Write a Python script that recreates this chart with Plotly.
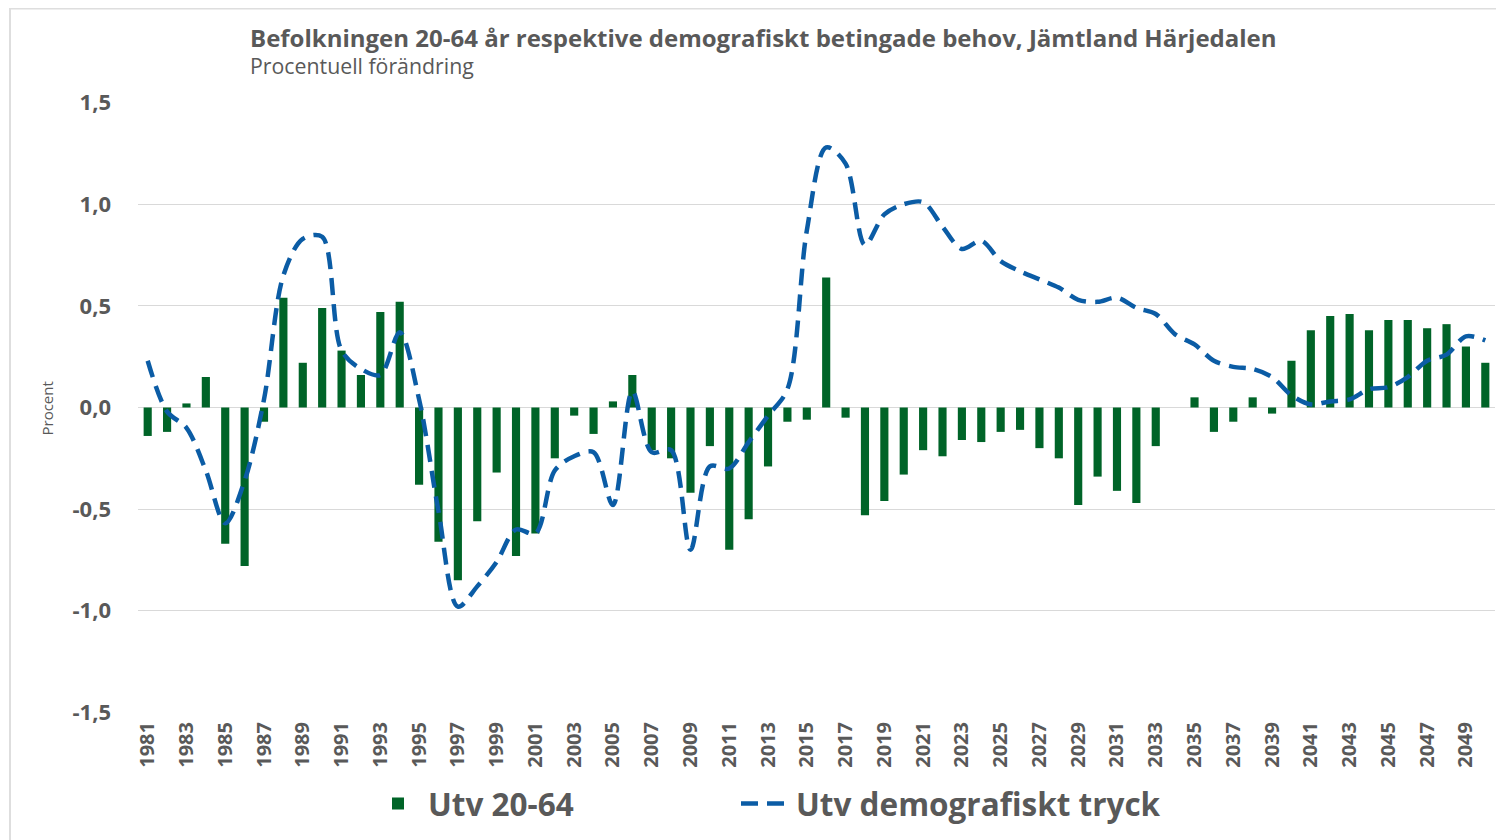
import plotly.graph_objects as go

years = list(range(1981, 2051))

utv_20_64 = [
    -0.14, -0.12, 0.02, 0.15, -0.67, -0.78, -0.07, 0.54, 0.22, 0.49,
    0.28, 0.16, 0.47, 0.52, -0.38, -0.66, -0.85, -0.56, -0.32, -0.73,
    -0.62, -0.25, -0.04, -0.13, 0.03, 0.16, -0.21, -0.25, -0.42, -0.19,
    -0.70, -0.55, -0.29, -0.07, -0.06, 0.64, -0.05, -0.53, -0.46, -0.33,
    -0.21, -0.24, -0.16, -0.17, -0.12, -0.11, -0.20, -0.25, -0.48, -0.34,
    -0.41, -0.47, -0.19, 0.0, 0.05, -0.12, -0.07, 0.05, -0.03, 0.23,
    0.38, 0.45, 0.46, 0.38, 0.43, 0.43, 0.39, 0.41, 0.30, 0.22,
]

utv_demografiskt_tryck = [
    0.23, -0.02, -0.10, -0.31, -0.57, -0.36, 0.04, 0.65, 0.83, 0.84,
    0.28, 0.19, 0.16, 0.37, 0.04, -0.51, -0.98, -0.88, -0.76, -0.60,
    -0.62, -0.31, -0.24, -0.22, -0.48, 0.08, -0.22, -0.21, -0.70, -0.29,
    -0.30, -0.17, -0.04, 0.09, 0.87, 1.28, 1.20, 0.80, 0.95, 1.00,
    1.01, 0.89, 0.78, 0.82, 0.72, 0.67, 0.63, 0.59, 0.53, 0.52,
    0.54, 0.49, 0.46, 0.36, 0.31, 0.23, 0.20, 0.19, 0.15, 0.06,
    0.015, 0.03, 0.04, 0.09, 0.10, 0.15, 0.23, 0.26, 0.35, 0.33,
]

tick_years = list(range(1981, 2050, 2))
y_ticks = [-1.5, -1.0, -0.5, 0.0, 0.5, 1.0, 1.5]
y_ticktext = ["-1,5", "-1,0", "-0,5", "0,0", "0,5", "1,0", "1,5"]

title_text = "Befolkningen 20-64 år respektive demografiskt betingade behov, Jämtland Härjedalen"
subtitle_text = "Procentuell förändring"

GRAY = "#595959"
FONT = "Open Sans"

# page body has an 8px margin; convert reference pixel positions accordingly
OFF = 8
W, H = 1504 - OFF, 840 - OFF
L = 138 - OFF
R = W - (1495 - OFF)
T = 102 - OFF
B = H - (716 - OFF)
pw = W - L - R
ph = H - T - B


def px_x(px):
    return (px - OFF - L) / pw


def px_y(py):
    return ((716 - OFF) - (py - OFF)) / ph


fig = go.Figure()
fig.add_trace(go.Bar(
    x=years, y=utv_20_64, name="Utv 20-64",
    marker=dict(color="#006428", line=dict(width=0)),
    width=0.42, legend="legend",
))
fig.add_trace(go.Scatter(
    x=years, y=utv_demografiskt_tryck, name="Utv demografiskt tryck",
    mode="lines",
    line=dict(color="#0B5CA5", width=4.5, dash="17px,9px", shape="spline", smoothing=0.9),
    legend="legend2",
))

legend_font = dict(size=31.5, color=GRAY, family=FONT, weight="bold")

fig.update_layout(
    width=W, height=H,
    margin=dict(l=L, r=R, t=T, b=B),
    paper_bgcolor="white",
    plot_bgcolor="white",
    font=dict(family=FONT, color=GRAY),
    showlegend=True,
    legend=dict(
        orientation="h", x=px_x(368), xanchor="left", y=px_y(807), yanchor="middle",
        font=legend_font, itemwidth=50, bgcolor="rgba(0,0,0,0)",
    ),
    legend2=dict(
        orientation="h", x=px_x(736), xanchor="left", y=px_y(807), yanchor="middle",
        font=legend_font, itemwidth=50, bgcolor="rgba(0,0,0,0)",
    ),
    shapes=[dict(
        type="rect", xref="paper", yref="paper", layer="below",
        x0=px_x(10), x1=px_x(1520), y0=px_y(860), y1=px_y(8),
        fillcolor="rgba(0,0,0,0)", line=dict(color="#dedede", width=2),
    )],
    annotations=[
        dict(text="<b>" + title_text + "</b>", xref="paper", yref="paper",
             x=px_x(248), y=px_y(37), xanchor="left", yanchor="middle",
             showarrow=False, font=dict(size=24, color=GRAY, family=FONT)),
        dict(text=subtitle_text, xref="paper", yref="paper",
             x=px_x(248), y=px_y(65), xanchor="left", yanchor="middle",
             showarrow=False, font=dict(size=21.3, color=GRAY, family=FONT)),
        dict(text="Procent", xref="paper", yref="paper",
             x=px_x(47), y=px_y(410), xanchor="center", yanchor="middle",
             textangle=-90, showarrow=False, font=dict(size=15, color=GRAY, family=FONT)),
    ],
)

fig.update_xaxes(
    range=[1980.5, 2050.5],
    tickvals=tick_years, ticktext=[str(y) for y in tick_years],
    tickangle=-90,
    tickfont=dict(size=20, color=GRAY, family=FONT, weight="bold"),
    showgrid=False, showline=False, zeroline=False, ticks="",
    ticklabelstandoff=4,
)
fig.update_yaxes(
    range=[-1.503, 1.503],
    tickvals=y_ticks, ticktext=y_ticktext,
    tickfont=dict(size=22, color=GRAY, family=FONT, weight="bold"),
    showgrid=True, gridcolor="#d9d9d9", gridwidth=1,
    zeroline=True, zerolinecolor="#d9d9d9", zerolinewidth=1,
    showline=False, ticks="", ticklabelstandoff=26,
)

fig.write_html("out.html")
